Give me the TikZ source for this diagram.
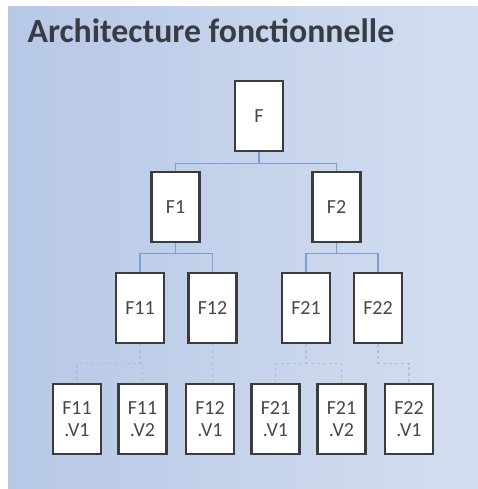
\documentclass[tikz,border=0pt]{standalone}
\usepackage{fontspec}
\setmainfont{Carlito}
\usepackage{tikz}

\definecolor{bgleft}{HTML}{B7C8E6}
\definecolor{bgright}{HTML}{D3DEF0}
\definecolor{boxline}{HTML}{3C3C3C}
\definecolor{boxtext}{HTML}{474747}
\definecolor{linkblue}{HTML}{7F9DD3}
\definecolor{titlegray}{HTML}{383C44}

\begin{document}
\begin{tikzpicture}[x=1pt, y=1pt,
    fbox/.style={draw=boxline, line width=2.6pt, fill=white, text=boxtext,
      minimum width=48pt, minimum height=70pt, inner sep=0pt,
      font=\fontsize{20}{22}\selectfont, align=center},
    link/.style={draw=linkblue, line width=1.4pt},
    vlink/.style={draw=linkblue!65!white, line width=1.2pt, dashed}]
  \useasboundingbox (0,0) rectangle (478,489);
  \fill[white] (0,0) rectangle (478,489);
  \shade[left color=bgleft, right color=bgright] (8,0) rectangle (478,482);
  \node[anchor=base west, text=titlegray, font=\fontsize{33.8}{36}\selectfont\bfseries]
    (title) at (24,446) {Architecture fonctionnelle};

  % niveau 0 et 1
  \node[fbox] (F) at (259,373) {F};
  \node[fbox] (F1) at (175.5,282) {F1};
  \node[fbox] (F2) at (336.5,282) {F2};
  % niveau 2
  \node[fbox] (F11) at (140,181) {F11};
  \node[fbox] (F12) at (212.5,181) {F12};
  \node[fbox] (F21) at (306,181) {F21};
  \node[fbox] (F22) at (378,181) {F22};
  % variantes
  \node[fbox] (F11V1) at (77,70) {F11\\.V1};
  \node[fbox] (F11V2) at (142.5,70) {F11\\.V2};
  \node[fbox] (F12V1) at (210,70) {F12\\.V1};
  \node[fbox] (F21V1) at (275.5,70) {F21\\.V1};
  \node[fbox] (F21V2) at (341.5,70) {F21\\.V2};
  \node[fbox] (F22V1) at (409,70) {F22\\.V1};

  \draw[link] (F.south) -- ++(0,-11) -| (F1.north);
  \draw[link] (F.south) -- ++(0,-11) -| (F2.north);
  \draw[link] (F1.south) -- ++(0,-10) -| (F11.north);
  \draw[link] (F1.south) -- ++(0,-10) -| (F12.north);
  \draw[link] (F2.south) -- ++(0,-10) -| (F21.north);
  \draw[link] (F2.south) -- ++(0,-10) -| (F22.north);

  \draw[vlink] (F11.south) -- ++(0,-19.5) -| (F11V1.north);
  \draw[vlink] (F11.south) -- ++(0,-19.5) -| (F11V2.north);
  \draw[vlink] (F12.south) -- (F12.south |- F12V1.north);
  \draw[vlink] (F21.south) -- ++(0,-19.5) -| (F21V1.north);
  \draw[vlink] (F21.south) -- ++(0,-19.5) -| (F21V2.north);
  \draw[vlink] (F22.south) -- ++(0,-19.5) -| (F22V1.north);
\end{tikzpicture}
\end{document}
